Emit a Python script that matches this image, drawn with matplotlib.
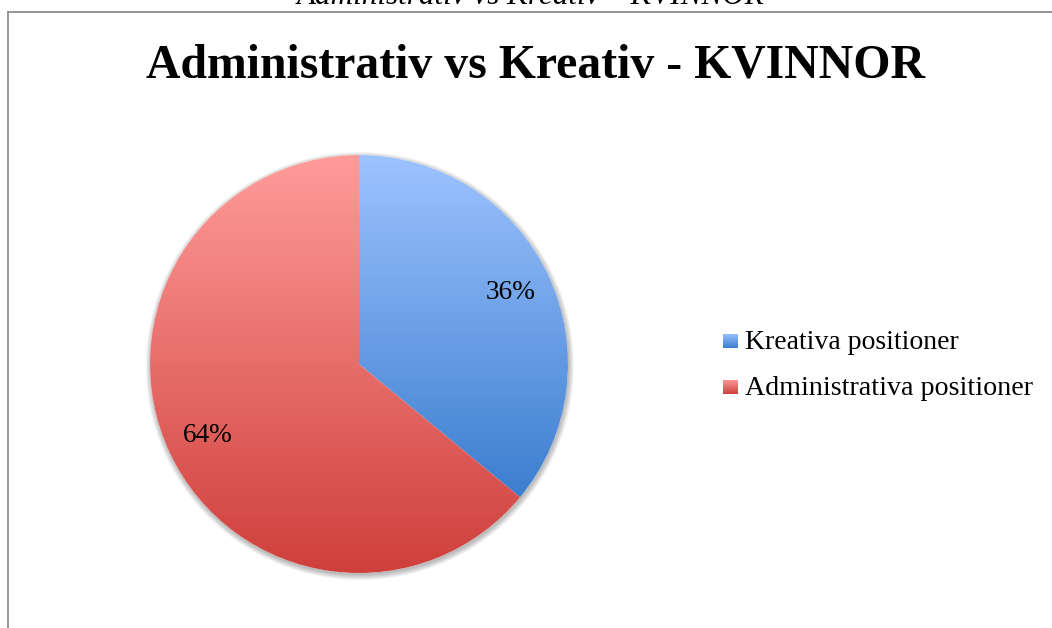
import numpy as np
import matplotlib
matplotlib.use("Agg")
import matplotlib.pyplot as plt
from matplotlib.colors import LinearSegmentedColormap
from matplotlib.patches import Circle
from matplotlib.lines import Line2D

# ---- data -------------------------------------------------------------
categories = ["Kreativa positioner", "Administrativa positioner"]
values = [36, 64]
pct_labels = ["36%", "64%"]
top_colors = ["#9DC3FF", "#FF9C9A"]
bottom_colors = ["#3C7ECF", "#CF3F3B"]
title = "Administrativ vs Kreativ - KVINNOR"
header = "Administrativ vs Kreativ \u2013 KVINNOR"

# ---- figure -----------------------------------------------------------
W, H, DPI = 1052, 628, 100
fig = plt.figure(figsize=(W / DPI, H / DPI), dpi=DPI)
fig.patch.set_facecolor("white")
SERIF = ["Liberation Serif", "DejaVu Serif"]


def fx(x):
    return x / W


def fy(y):
    return 1 - y / H


def fit_text(txt, width_px, start=20):
    """Scale a text's font size so its rendered width is width_px."""
    r = fig.canvas.get_renderer()
    txt.set_fontsize(start)
    w = txt.get_window_extent(renderer=r).width
    txt.set_fontsize(start * width_px / w)
    return txt


# outer frame (left and top edges visible)
frame_kw = dict(color="#8c8c8c", lw=1.3, transform=fig.transFigure)
fig.add_artist(Line2D([fx(8), fx(8)], [0, fy(12)], **frame_kw))
fig.add_artist(Line2D([fx(8), 1], [fy(12), fy(12)], **frame_kw))

# header text running off the top edge of the page
t = fig.text(fx(531), fy(4), header, ha="center", va="baseline",
             family=SERIF, style="italic", color="black")
fit_text(t, 467)

# chart title
t = fig.text(fx(535), fy(77), title, ha="center", va="baseline",
             family=SERIF, weight="bold", color="black")
fit_text(t, 780)

# ---- pie --------------------------------------------------------------
cx, cy, R = 359, 364, 209
pad = 1.08
ax = fig.add_axes([fx(cx - R * pad), fy(cy + R * pad),
                   2 * R * pad / W, 2 * R * pad / H])
ax.axis("off")

# soft drop shadow
for k in range(8):
    ax.add_patch(Circle((0.004, -0.010), 1.0 + 0.0035 * k,
                        facecolor="black", edgecolor="none",
                        alpha=0.035, zorder=0, clip_on=False))
ax.add_patch(Circle((0, 0), 1.0, facecolor="white", edgecolor="none",
                    zorder=0.5))

wedges, _, autotexts = ax.pie(
    values, startangle=90, counterclock=False, radius=1,
    autopct=lambda p: f"{p:.0f}%", pctdistance=0.8,
    wedgeprops=dict(linewidth=0),
    textprops=dict(family=SERIF, color="black", fontsize=18),
)

grad = np.linspace(0, 1, 256).reshape(-1, 1)
for w, c0, c1 in zip(wedges, top_colors, bottom_colors):
    w.set_facecolor("none")
    ext = w.get_path().get_extents()
    cmap = LinearSegmentedColormap.from_list("g", [c0, c1])
    im = ax.imshow(grad, cmap=cmap, aspect="auto", origin="upper",
                   extent=[ext.x0, ext.x1, ext.y0, ext.y1], zorder=1,
                   interpolation="bilinear")
    im.set_clip_path(w)

ax.set_xlim(-pad, pad)
ax.set_ylim(-pad, pad)
ax.set_aspect("equal")
for at, lab in zip(autotexts, pct_labels):
    at.set_text(lab)
    at.set_zorder(5)
    fit_text(at, 50)

# ---- legend -----------------------------------------------------------
rows_y = [341, 387]
legend_texts = []
for label, c0, c1, ym in zip(categories, top_colors, bottom_colors, rows_y):
    lax = fig.add_axes([fx(723), fy(ym + 7.5), 15 / W, 15 / H])
    lax.imshow(grad, cmap=LinearSegmentedColormap.from_list("g", [c0, c1]),
               aspect="auto", extent=[0, 1, 0, 1])
    lax.axis("off")
    legend_texts.append(fig.text(fx(745), fy(ym + 8), label, ha="left",
                                 va="baseline", family=SERIF, color="black"))
for t, wpx in zip(legend_texts, [214, 288]):
    fit_text(t, wpx)

fig.savefig("out.png", dpi=DPI, facecolor="white")
